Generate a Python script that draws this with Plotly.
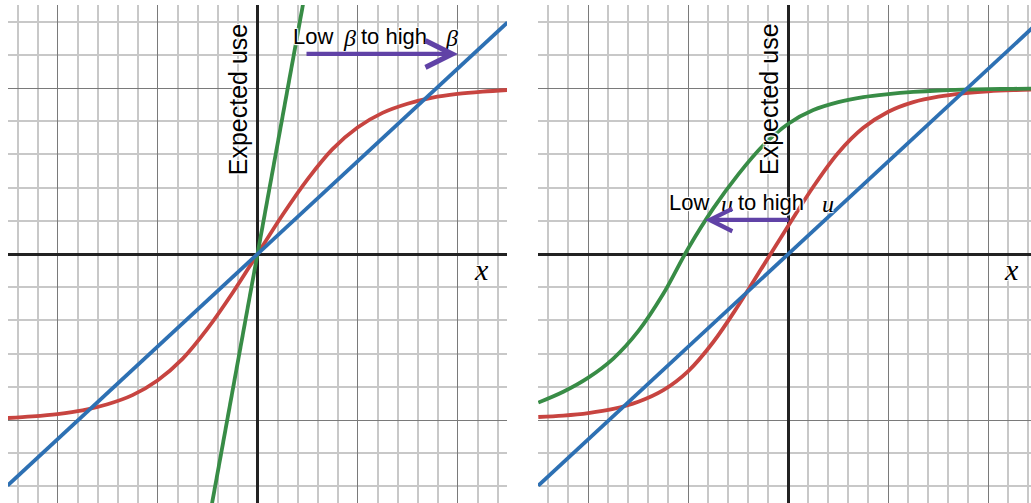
import plotly.graph_objects as go

# ---------------- data ----------------
x_grid = [-2.5, -2.25, -2.0, -1.75, -1.5, -1.25, -1.0, -0.75, -0.5, -0.25, 0.0,
          0.25, 0.5, 0.75, 1.0, 1.25, 1.5, 1.75, 2.0, 2.25, 2.5]

# left panel
red_left = [-0.988, -0.978, -0.964, -0.942, -0.905, -0.85, -0.762, -0.632, -0.45, -0.235, 0.0,
            0.235, 0.45, 0.632, 0.762, 0.85, 0.905, 0.942, 0.964, 0.978, 0.988]
green_left_x = [-0.46, 0.46]
green_left_y = [-1.52, 1.52]
blue_x = [-2.5, 2.5]
blue_y = [-1.395, 1.395]

# right panel
red_right = [-0.982, -0.973, -0.958, -0.933, -0.89, -0.82, -0.705, -0.53, -0.31, -0.07, 0.17,
             0.405, 0.61, 0.76, 0.857, 0.915, 0.948, 0.968, 0.98, 0.987, 0.991]
green_right = [-0.895, -0.83, -0.745, -0.63, -0.465, -0.24, 0.035, 0.275, 0.48, 0.655, 0.785,
               0.867, 0.915, 0.945, 0.963, 0.976, 0.985, 0.99, 0.993, 0.995, 0.997]

y_label = "Expected use"
x_label = "x"

# ---------------- style ----------------
RED = "#c74440"
BLUE = "#2d70b3"
GREEN = "#388c46"
PURPLE = "#6042a6"
LW = 3.8
SANS = "Liberation Sans, Arial, sans-serif"
SERIF = "Liberation Serif, Times New Roman, serif"
HALO = "white 1px 1px 1px, white -1px -1px 1px, white 1px -1px 1px, white -1px 1px 1px"

W, H = 1031, 503

fig = go.Figure()

def line(x, y, color, xa, ya, spline=False):
    fig.add_trace(go.Scatter(
        x=x, y=y, mode="lines", xaxis=xa, yaxis=ya, hoverinfo="skip",
        line=dict(color=color, width=LW, shape="spline" if spline else "linear", smoothing=1.0),
        showlegend=False))

# left panel traces
line(x_grid, red_left, RED, "x", "y", True)
line(green_left_x, green_left_y, GREEN, "x", "y")
line(blue_x, blue_y, BLUE, "x", "y")

# right panel traces
line(x_grid, red_right, RED, "x2", "y2", True)
line(x_grid, green_right, GREEN, "x2", "y2", True)
line(blue_x, blue_y, BLUE, "x2", "y2")

GRID_MAJOR = dict(gridcolor="#7a7a7a", gridwidth=1.3)
GRID_MINOR = dict(dtick=0.2, tick0=0, showgrid=True, gridcolor="#c8c8c8", gridwidth=1.5, ticks="")

def xaxis_cfg(domain, rng):
    return dict(domain=domain, range=rng, dtick=1, tick0=0, showticklabels=False,
                ticks="", showgrid=True, **GRID_MAJOR,
                zeroline=True, zerolinecolor="#222222", zerolinewidth=2.8,
                showline=False, fixedrange=True, minor=GRID_MINOR)

def yaxis_cfg(anchor):
    return dict(domain=[0, 498 / 503], range=[-1.5, 1.5], dtick=1, tick0=0, anchor=anchor,
                showticklabels=False, ticks="", showgrid=True, **GRID_MAJOR,
                zeroline=True, zerolinecolor="#222222", zerolinewidth=2.8,
                showline=False, fixedrange=True, minor=GRID_MINOR)

fig.update_layout(
    width=W, height=H,
    margin=dict(l=0, r=0, t=0, b=0),
    paper_bgcolor="white", plot_bgcolor="white",
    xaxis=xaxis_cfg([8 / W, 507 / W], [-2.495, 2.495]),
    yaxis=yaxis_cfg("x"),
    xaxis2=xaxis_cfg([538 / W, 1.0], [-2.503, 2.427]),
    yaxis2=yaxis_cfg("x2"),
)

def txt(x, y, s, xr, yr, size, family, italic=False, angle=0):
    fig.add_annotation(
        x=x, y=y, xref=xr, yref=yr, text=s, showarrow=False, textangle=angle,
        xanchor="center", yanchor="middle",
        font=dict(family=family, size=size, color="black",
                  style="italic" if italic else "normal", shadow=HALO))

def arrow(x0, y0, x1, y1, xr, yr, size):
    fig.add_annotation(
        x=x1, y=y1, ax=x0, ay=y0, xref=xr, yref=yr, axref=xr, ayref=yr,
        text="", showarrow=True, arrowhead=5, arrowwidth=4.2, arrowsize=size,
        arrowcolor=PURPLE, standoff=0, startstandoff=0)

# left panel labels
txt(-0.192, 0.934, y_label, "x", "y", 25, SANS, angle=-90)
txt(2.24, -0.096, x_label, "x", "y", 30, SERIF, italic=True)
txt(0.555, 1.313, "Low", "x", "y", 22, SANS)
txt(0.92, 1.30, "β", "x", "y", 24, SERIF, italic=True)
txt(1.36, 1.313, "to high", "x", "y", 22, SANS)
txt(1.94, 1.30, "β", "x", "y", 24, SERIF, italic=True)
arrow(0.475, 1.205, 2.005, 1.205, "x", "y", 1.25)

# right panel labels
txt(-0.193, 0.934, y_label, "x2", "y2", 25, SANS, angle=-90)
txt(2.232, -0.096, x_label, "x2", "y2", 30, SERIF, italic=True)
txt(-0.993, 0.31, "Low", "x2", "y2", 22, SANS)
txt(-0.616, 0.30, "u", "x2", "y2", 24, SERIF, italic=True)
txt(-0.178, 0.31, "to high", "x2", "y2", 22, SANS)
txt(0.40, 0.30, "u", "x2", "y2", 24, SERIF, italic=True)
arrow(0.017, 0.205, -0.833, 0.205, "x2", "y2", 1.05)

fig.write_html("out.html", config=dict(displayModeBar=False),
               post_script="document.body.style.margin='0';document.body.style.overflow='hidden';")
